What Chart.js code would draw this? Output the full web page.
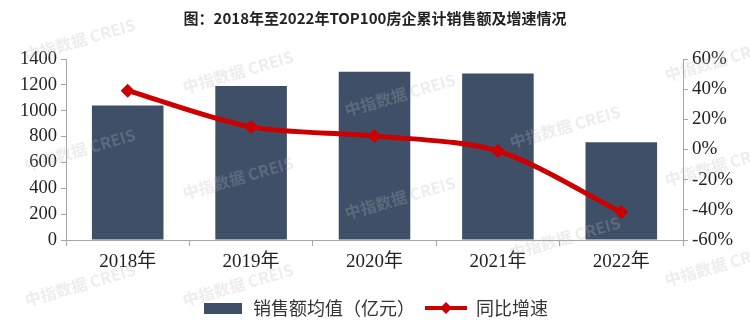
<!DOCTYPE html>
<html>
<head>
<meta charset="utf-8">
<script src="https://cdn.jsdelivr.net/npm/chart.js@4.4.1/dist/chart.umd.min.js"></script>
<style>
  html, body { margin: 0; padding: 0; background: #fff; }
  #wrap { width: 750px; height: 327px; }
</style>
</head>
<body>
<div id="wrap"><canvas id="c"></canvas></div>
<script>
// data
const years = ["2018年", "2019年", "2020年", "2021年", "2022年"];
const salesAvg = [1040, 1192, 1301, 1288, 756];      // 亿元
const growthPct = [39, 15, 9, -1, -41.5];            // %
const leftTicks = [0, 200, 400, 600, 800, 1000, 1200, 1400];
const rightTicks = [-60, -40, -20, 0, 20, 40, 60];

const BAR = "#3f4f68";
const RED = "#cc0000";
const AXIS = "#a6a6a6";
const SERIF = '"Liberation Serif", "Times New Roman", "Noto Sans CJK SC", serif';
const SANS = '"Noto Sans CJK SC", "Noto Sans", sans-serif';

// legend swatches
function swatch(kind) {
  const c = document.createElement("canvas");
  c.width = 42; c.height = 14;
  const g = c.getContext("2d");
  if (kind === "bar") {
    g.fillStyle = BAR;
    g.fillRect(2, 2, 38, 11);
  } else {
    g.strokeStyle = RED;
    g.lineWidth = 4;
    g.beginPath(); g.moveTo(0, 7); g.lineTo(42, 7); g.stroke();
    g.fillStyle = RED;
    g.beginPath(); g.moveTo(21, 1); g.lineTo(27, 7); g.lineTo(21, 13); g.lineTo(15, 7); g.closePath(); g.fill();
  }
  return c;
}
const swatches = [swatch("bar"), swatch("line")];

// faint "中指数据 CREIS" marks like the source image
const marks = [[80, 40], [238, 72], [720, 60], [80, 150], [238, 178], [400, 95],
  [565, 127], [720, 165], [400, 198], [565, 238], [80, 285], [238, 285], [720, 265]];
const watermark = {
  id: "watermark",
  afterDraw(chart) {
    const ctx = chart.ctx;
    ctx.save();
    ctx.font = "bold 16px " + SANS;
    ctx.fillStyle = "rgba(185,185,185,0.25)";
    ctx.textAlign = "center";
    ctx.textBaseline = "middle";
    marks.forEach(([x, y]) => {
      ctx.save();
      ctx.translate(x, y);
      ctx.rotate(-0.28);
      ctx.fillText("中指数据 CREIS", 0, 0);
      ctx.restore();
    });
    ctx.restore();
  },
};

const fixTicks = (vals) => (scale) => { scale.ticks = vals.map((v) => ({ value: v })); };

new Chart(document.getElementById("c"), {
  data: {
    labels: years,
    datasets: [
      {
        type: "bar",
        label: "销售额均值（亿元）",
        data: salesAvg,
        backgroundColor: BAR,
        yAxisID: "y",
        categoryPercentage: 1,
        barPercentage: 0.58,
        order: 2,
      },
      {
        type: "line",
        label: "同比增速",
        data: growthPct,
        borderColor: RED,
        backgroundColor: RED,
        borderWidth: 5,
        tension: 0.3,
        pointStyle: "rectRot",
        pointRadius: 7,
        pointBackgroundColor: RED,
        pointBorderWidth: 0,
        yAxisID: "y1",
        order: 1,
      },
    ],
  },
  options: {
    responsive: true,
    maintainAspectRatio: false,
    animation: false,
    layout: { padding: 0 },
    plugins: {
      title: {
        display: true,
        text: "图：2018年至2022年TOP100房企累计销售额及增速情况",
        color: "#222",
        font: { family: SANS, size: 15, weight: "bold" },
        padding: { top: 9, bottom: 32 },
      },
      legend: {
        position: "bottom",
        labels: {
          usePointStyle: true,
          pointStyleWidth: 42,
          boxHeight: 14,
          padding: 10,
          color: "#333",
          font: { family: SANS, size: 18 },
          sort: (a, b) => a.datasetIndex - b.datasetIndex,
          generateLabels: (chart) =>
            Chart.defaults.plugins.legend.labels.generateLabels(chart).map((it) => {
              it.pointStyle = swatches[it.datasetIndex];
              return it;
            }),
        },
      },
      tooltip: { enabled: false },
    },
    scales: {
      x: {
        offset: true,
        grid: { display: true, offset: true, drawOnChartArea: false, drawTicks: true, tickLength: 6, color: AXIS },
        border: { display: true, color: AXIS },
        ticks: { color: "#222", padding: 5, font: { family: SERIF, size: 19 } },
        afterFit: (s) => { s.height = 49; },
      },
      y: {
        position: "left",
        min: 0,
        max: 1400,
        afterBuildTicks: fixTicks(leftTicks),
        grid: { drawOnChartArea: false, drawTicks: true, tickLength: 5, color: AXIS },
        border: { display: true, color: AXIS },
        ticks: { color: "#222", padding: 4, font: { family: SERIF, size: 18.5 }, callback: (v) => String(v) },
        afterFit: (s) => { s.width = 66; },
      },
      y1: {
        position: "right",
        min: -60,
        max: 60,
        afterBuildTicks: fixTicks(rightTicks),
        grid: { drawOnChartArea: false, drawTicks: true, tickLength: 5, color: AXIS },
        border: { display: true, color: AXIS },
        ticks: { color: "#222", padding: 4, font: { family: SERIF, size: 19 }, callback: (v) => v + "%" },
        afterFit: (s) => { s.width = 67; },
      },
    },
  },
  plugins: [watermark],
});
</script>
</body>
</html>
